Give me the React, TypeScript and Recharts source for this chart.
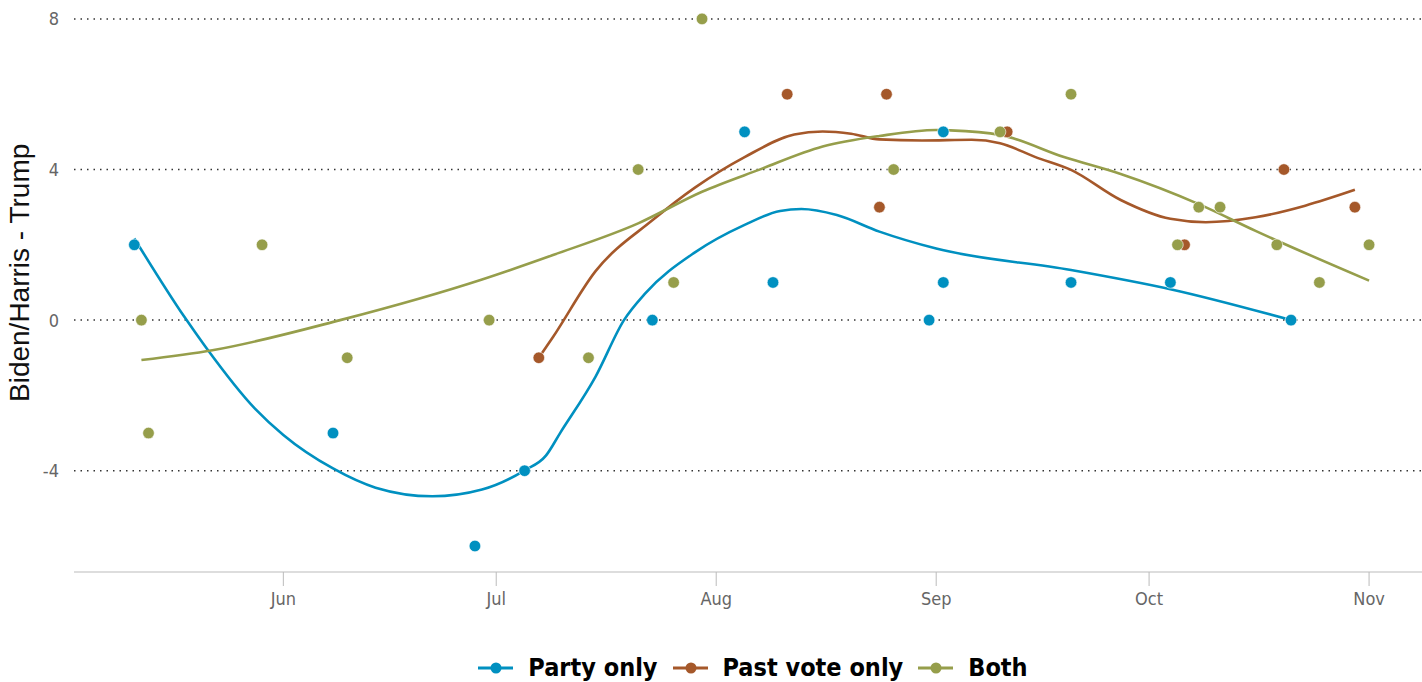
import React from 'react'
import {
  ComposedChart,
  Line,
  Scatter,
  XAxis,
  YAxis,
  CartesianGrid,
} from 'recharts'

// poll points (month-day, 2024) and margins
const partyDates = ['05-11', '06-08', '06-28', '07-05', '07-23', '08-05', '08-09', '08-31', '09-02', '09-02', '09-20', '10-04', '10-21']
const partyValues = [2, -3, -6, -4, 0, 5, 1, 0, 5, 1, 1, 1, 0]

const pastDates = ['07-07', '08-11', '08-24', '08-25', '09-11', '10-06', '10-20', '10-30']
const pastValues = [-1, 6, 3, 6, 5, 2, 4, 3]

const bothDates = ['05-12', '05-13', '05-29', '06-10', '06-30', '07-14', '07-21', '07-26', '07-30', '08-26', '09-10', '09-20', '10-05', '10-08', '10-11', '10-19', '10-25', '11-01']
const bothValues = [0, -3, 2, -1, 0, -1, 4, 1, 8, 4, 5, 6, 2, 3, 3, 2, 1, 2]

// smoothed trend lines
const partyTrendDates = ['05-11', '05-18', '05-21', '05-28', '06-01', '06-08', '06-14', '06-22', '06-29', '07-05', '07-08', '07-10', '07-15', '07-19', '07-22', '07-29', '08-05', '08-10', '08-13', '08-18', '08-24', '09-01', '09-20', '10-04', '10-21']
const partyTrendValues = [2.17, 0.1, -0.7, -2.35, -3.05, -3.94, -4.45, -4.68, -4.5, -3.99, -3.6, -3.0, -1.5, 0, 0.71, 1.8, 2.53, 2.9, 2.95, 2.79, 2.35, 1.9, 1.33, 0.82, 0]

const pastTrendDates = ['07-07', '07-09', '07-15', '07-23', '07-29', '08-05', '08-12', '08-16', '08-20', '08-24', '08-30', '09-06', '09-10', '09-15', '09-20', '09-27', '10-04', '10-09', '10-16', '10-23', '10-30']
const pastTrendValues = [-1, -0.45, 1.3, 2.65, 3.52, 4.33, 4.93, 5.01, 4.95, 4.8, 4.77, 4.79, 4.7, 4.33, 3.99, 3.19, 2.69, 2.6, 2.73, 3.04, 3.46]

const bothTrendDates = ['05-12', '05-22', '06-09', '06-29', '07-09', '07-21', '07-30', '08-07', '08-16', '08-24', '09-01', '09-03', '09-10', '09-19', '09-27', '10-08', '10-16', '11-01']
const bothTrendValues = [-1.06, -0.8, 0, 1.08, 1.73, 2.57, 3.41, 3.99, 4.61, 4.89, 5.05, 5.04, 4.92, 4.33, 3.88, 3.08, 2.37, 1.05]

const monthTicks = ['06-01', '07-01', '08-01', '09-01', '10-01', '11-01']
const monthNames = ['Jan', 'Feb', 'Mar', 'Apr', 'May', 'Jun', 'Jul', 'Aug', 'Sep', 'Oct', 'Nov', 'Dec']
const yTicks = [-4, 0, 4, 8]

const seriesNames = ['Party only', 'Past vote only', 'Both']
const seriesColors = ['#0090c0', '#a5582a', '#969e4b']

const toT = (md: string) => Date.UTC(2024, Number(md.slice(0, 2)) - 1, Number(md.slice(3)))
const rows = (dates: string[], values: number[]) => dates.map((d, i) => ({ t: toT(d), v: values[i] }))

const points = [rows(partyDates, partyValues), rows(pastDates, pastValues), rows(bothDates, bothValues)]
const trends = [
  rows(partyTrendDates, partyTrendValues),
  rows(pastTrendDates, pastTrendValues),
  rows(bothTrendDates, bothTrendValues),
]

const narrow = "'Liberation Sans Narrow', 'DejaVu Sans Condensed', sans-serif"

const Dot = (color: string) => (props: any) =>
  <circle cx={props.cx} cy={props.cy} r={5.8} fill={color} stroke="#fff" strokeWidth={0.6} />

const App = () => {
  return (
    <div style={{ position: 'absolute', left: 0, top: 0, width: 1422, height: 682, background: '#fff' }}>
      <ComposedChart
        width={1422}
        height={640}
        margin={{ top: 8, right: 0, left: 14, bottom: 0 }}
      >
        <CartesianGrid
          vertical={false}
          horizontalValues={yTicks}
          stroke="#333"
          strokeDasharray="1.5 5"
          strokeWidth={1.5}
        />
        <XAxis
          dataKey="t"
          type="number"
          domain={[Date.UTC(2024, 4, 2, 12), Date.UTC(2024, 10, 8, 11)]}
          ticks={monthTicks.map(toT)}
          tickFormatter={(t: number) => monthNames[new Date(t).getUTCMonth()]}
          allowDataOverflow
          height={68}
          stroke="#bbb"
          tickSize={14}
          tickMargin={6}
          tick={{ fill: '#666', fontSize: 18, fontFamily: narrow }}
        />
        <YAxis
          type="number"
          domain={[-6.69, 8.29]}
          ticks={yTicks}
          allowDataOverflow
          width={60}
          axisLine={false}
          tickLine={false}
          tickMargin={9}
          tick={{ fill: '#666', fontSize: 18, fontFamily: narrow }}
          label={{
            value: 'Biden/Harris - Trump',
            angle: -90,
            position: 'insideLeft',
            dx: 0,
            dy: 112,
            style: { fill: '#111', fontSize: 28, fontFamily: "'Liberation Sans', Arial, sans-serif" },
          }}
        />
        {trends.map((d, i) => (
          <Line
            key={'l' + i}
            data={d}
            dataKey="v"
            type="monotone"
            stroke={seriesColors[i]}
            strokeWidth={2.6}
            dot={false}
            activeDot={false}
            isAnimationActive={false}
          />
        ))}
        {points.map((d, i) => (
          <Scatter
            key={'s' + i}
            data={d}
            dataKey="v"
            fill={seriesColors[i]}
            shape={Dot(seriesColors[i])}
            isAnimationActive={false}
          />
        ))}
      </ComposedChart>
      <div
        style={{
          position: 'absolute',
          left: 74,
          width: 1358,
          top: 653,
          display: 'flex',
          justifyContent: 'center',
          alignItems: 'center',
          gap: 15,
          fontFamily: narrow,
          fontWeight: 'bold',
          fontSize: 25,
          lineHeight: '30px',
          color: '#000',
        }}
      >
        {seriesNames.map((name, i) => (
          <div key={name} style={{ display: 'flex', alignItems: 'center', gap: 15 }}>
            <svg width={35} height={14}>
              <line x1={0} y1={7} x2={35} y2={7} stroke={seriesColors[i]} strokeWidth={3} />
              <circle cx={18} cy={7} r={5.5} fill={seriesColors[i]} />
            </svg>
            <span>{name}</span>
          </div>
        ))}
      </div>
    </div>
  )
}

export default App
